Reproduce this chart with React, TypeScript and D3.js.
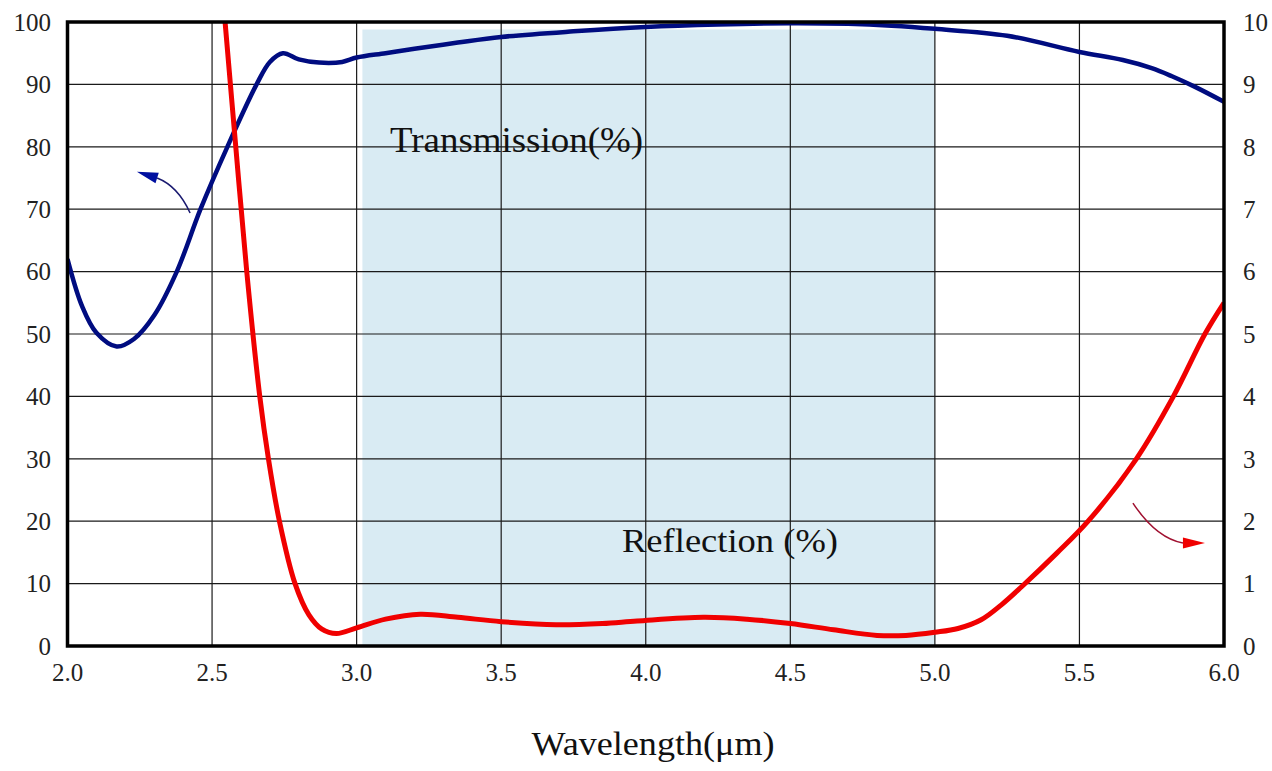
import React from "react";
import * as d3 from "d3";

// Transmission (%), left axis
const transX = [2.0, 2.05, 2.1, 2.17, 2.23, 2.3, 2.378, 2.46, 2.553, 2.654, 2.7, 2.745, 2.8, 2.87, 2.95, 3.0, 3.1, 3.2, 3.35, 3.5, 3.75, 4.0, 4.25, 4.5, 4.7, 4.85, 5.0, 5.25, 5.5, 5.65, 5.75, 5.82, 5.9, 6.0];
const transY = [62, 54.5, 50.2, 48, 49.2, 53, 60, 70, 80, 90, 93.6, 95, 94, 93.5, 93.6, 94.3, 95, 95.7, 96.7, 97.6, 98.5, 99.2, 99.6, 99.8, 99.7, 99.4, 98.9, 97.8, 95.2, 93.9, 92.6, 91.3, 89.6, 87.2];

// Reflection (%), right axis (0-10)
const reflX = [2.545, 2.582, 2.62, 2.665, 2.695, 2.733, 2.787, 2.835, 2.88, 2.93, 3.0, 3.1, 3.22, 3.35, 3.5, 3.69, 3.85, 3.97, 4.2, 4.35, 4.5, 4.65, 4.8, 4.9, 5.0, 5.08, 5.16, 5.23, 5.3, 5.42, 5.53, 5.697, 5.825, 5.934, 6.0];
const reflY = [10, 8, 6, 4, 3, 2, 1, 0.5, 0.27, 0.2, 0.29, 0.43, 0.51, 0.46, 0.39, 0.34, 0.36, 0.4, 0.46, 0.43, 0.36, 0.26, 0.17, 0.17, 0.22, 0.28, 0.42, 0.66, 0.95, 1.48, 2, 3, 4, 5, 5.5];

const xTicks = [2.0, 2.5, 3.0, 3.5, 4.0, 4.5, 5.0, 5.5, 6.0];
const leftTicks = [0, 10, 20, 30, 40, 50, 60, 70, 80, 90, 100];
const rightTicks = [0, 1, 2, 3, 4, 5, 6, 7, 8, 9, 10];

const bandX = [3.02, 5.0];
const bandTop = 98.8;

// annotation arrows in data units [x, leftY]
const blueArrow = [[2.424, 69.4], [2.382, 73.7], [2.31, 75.0], [2.24, 76.0]];
const redArrow = [[5.685, 22.9], [5.765, 17.3], [5.858, 16.5], [5.934, 16.5]];

const W = 1272, H = 771;
const L = 67.5, R = 1224, T = 22, B = 646;

export default function App() {
  const x = d3.scaleLinear().domain([2, 6]).range([L, R]);
  const yL = d3.scaleLinear().domain([0, 100]).range([B, T]);
  const yR = d3.scaleLinear().domain([0, 10]).range([B, T]);

  const curve = d3.curveCatmullRom.alpha(0.5);
  const transLine = d3.line<number>().x((_, i) => x(transX[i])).y((d) => yL(d)).curve(curve)(transY) || "";
  const reflLine = d3.line<number>().x((_, i) => x(reflX[i])).y((d) => yR(d)).curve(curve)(reflY) || "";

  const arrow = (pts: number[][], color: string, headColor: string) => {
    const p = pts.map(([a, b]) => [x(a), yL(b)]);
    const [s, c, e, tip] = p;
    const dx = tip[0] - e[0], dy = tip[1] - e[1];
    const len = Math.hypot(dx, dy);
    const nx = -dy / len, ny = dx / len;
    const hw = 5.5;
    return (
      <g>
        <path d={`M${s[0]},${s[1]} Q${c[0]},${c[1]} ${e[0]},${e[1]}`} fill="none" stroke={color} strokeWidth={1.5} />
        <path d={`M${tip[0]},${tip[1]} L${e[0] + nx * hw},${e[1] + ny * hw} L${e[0] - nx * hw},${e[1] - ny * hw} Z`} fill={headColor} />
      </g>
    );
  };

  const font = "'Liberation Serif', 'Times New Roman', serif";

  return (
    <svg width={W} height={H} style={{ position: "absolute", left: 0, top: 0, background: "#fff" }} fontFamily={font}>
      <defs>
        <clipPath id="plot">
          <rect x={L} y={T} width={R - L} height={B - T} />
        </clipPath>
      </defs>
      <rect x={x(bandX[0])} y={yL(bandTop)} width={x(bandX[1]) - x(bandX[0])} height={B - yL(bandTop)} fill="#d9ebf3" />
      {xTicks.slice(1, -1).map((t) => (
        <line key={"gx" + t} x1={x(t)} x2={x(t)} y1={T} y2={B} stroke="#1a1a1a" strokeWidth={1.2} />
      ))}
      {leftTicks.slice(1, -1).map((t) => (
        <line key={"gy" + t} x1={L} x2={R} y1={yL(t)} y2={yL(t)} stroke="#1a1a1a" strokeWidth={1.2} />
      ))}
      <g clipPath="url(#plot)">
        <path d={transLine} fill="none" stroke="#000c80" strokeWidth={4.5} strokeLinejoin="round" />
        <path d={reflLine} fill="none" stroke="#f00000" strokeWidth={5} strokeLinejoin="round" />
      </g>
      <rect x={L} y={T} width={R - L} height={B - T} fill="none" stroke="#000" strokeWidth={3.5} />
      {leftTicks.map((t) => (
        <text key={"l" + t} x={51} y={yL(t)} dy="0.35em" textAnchor="end" fontSize={25} fill="#222">{t}</text>
      ))}
      {rightTicks.map((t) => (
        <text key={"r" + t} x={1243} y={yR(t)} dy="0.35em" textAnchor="start" fontSize={25} fill="#222">{t}</text>
      ))}
      {xTicks.map((t) => (
        <text key={"x" + t} x={x(t)} y={672} dy="0.35em" textAnchor="middle" fontSize={25} fill="#222">{t.toFixed(1)}</text>
      ))}
      <text x={653} y={755} textAnchor="middle" fontSize={34} fill="#111" textLength={243} lengthAdjust="spacingAndGlyphs">Wavelength(μm)</text>
      <text x={390} y={152} fontSize={35} fill="#111" textLength={253} lengthAdjust="spacingAndGlyphs">Transmission(%)</text>
      <text x={622} y={552} fontSize={33} fill="#111" textLength={216} lengthAdjust="spacingAndGlyphs">Reflection (%)</text>
      {arrow(blueArrow, "#1a1a70", "#0010a0")}
      {arrow(redArrow, "#a01030", "#f00000")}
    </svg>
  );
}
